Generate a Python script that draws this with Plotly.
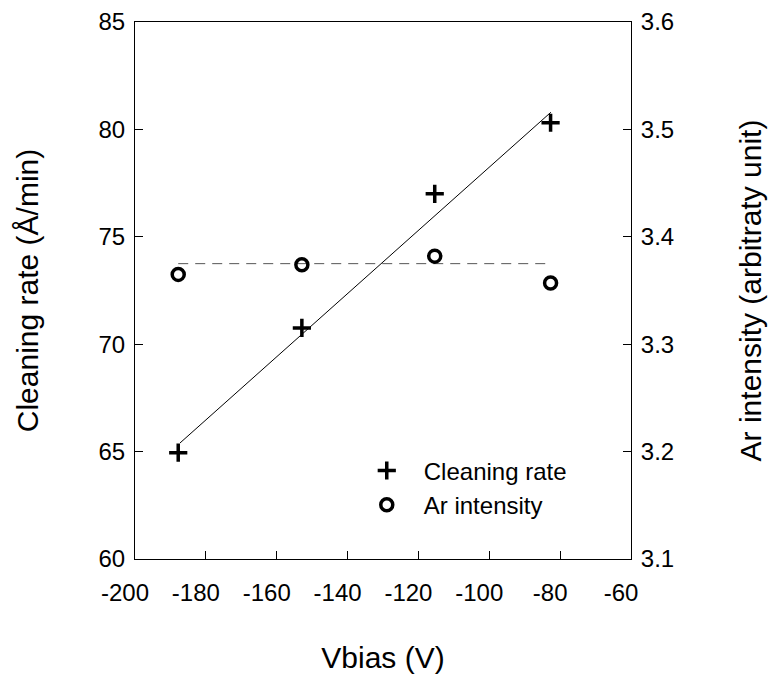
import plotly.graph_objects as go

# Data
vbias = [-187.8, -152.9, -115.4, -82.7]
cleaning_rate = [64.95, 70.76, 77.0, 80.31]
ar_intensity = [3.365, 3.374, 3.382, 3.357]

# Fitted lines
fit_x = [-187.3, -82.6]
fit_rate = [65.4, 80.8]
ar_level_x = [-187.8, -82.7]
ar_level = [3.375, 3.375]

x_ticks = [-200, -180, -160, -140, -120, -100, -80, -60]
x_tick_labels = ["-200", "-180", "-160", "-140", "-120", "-100", "-80", "-60"]
y_ticks = [60, 65, 70, 75, 80, 85]
y2_ticks = [3.1, 3.2, 3.3, 3.4, 3.5, 3.6]

FONT = "Liberation Sans, Arial, sans-serif"

fig = go.Figure()
fig.add_trace(go.Scatter(x=fit_x, y=fit_rate, mode="lines",
                         line=dict(color="black", width=1), showlegend=False,
                         hoverinfo="skip"))
fig.add_trace(go.Scatter(x=ar_level_x, y=ar_level, mode="lines", yaxis="y2",
                         line=dict(color="#555555", width=1, dash="10px,7px"),
                         showlegend=False, hoverinfo="skip"))
fig.add_trace(go.Scatter(x=vbias, y=cleaning_rate, mode="markers", name="Cleaning rate",
                         marker=dict(symbol="cross-thin", size=13, color="black",
                                     line=dict(color="black", width=3.5)),
                         legendgroup="a"))
fig.add_trace(go.Scatter(x=vbias, y=ar_intensity, mode="markers", name="Ar intensity",
                         yaxis="y2",
                         marker=dict(symbol="circle-open", size=12, color="black",
                                     line=dict(color="black", width=3.5)),
                         legendgroup="b"))

axis_common = dict(showgrid=False, zeroline=False, linecolor="black", linewidth=1,
                   ticks="inside", ticklen=8, tickcolor="black",
                   ticklabeloverflow="allow", automargin=False,
                   tickfont=dict(family=FONT, size=24, color="black"))

fig.update_layout(
    width=783, height=675,
    margin=dict(l=127, r=160, t=14, b=124),
    paper_bgcolor="white", plot_bgcolor="white",
    font=dict(family=FONT, color="black"),
    xaxis=dict(range=[-200, -60], tickvals=x_ticks, ticktext=x_tick_labels, mirror=True,
               ticklabelstandoff=12, ticklabelshift=-10,
               title=dict(text="Vbias (V)", font=dict(family=FONT, size=30), standoff=42),
               **axis_common),
    yaxis=dict(range=[60, 85], tickvals=y_ticks, ticklabelstandoff=4,
               title=dict(text="Cleaning rate (Å/min)", font=dict(family=FONT, size=30),
                          standoff=50),
               **axis_common),
    yaxis2=dict(range=[3.1, 3.6], tickvals=y2_ticks, overlaying="y", side="right",
                tickformat=".1f", ticklabelstandoff=4,
                title=dict(text="Ar intensity (arbitraty unit)", font=dict(family=FONT, size=30),
                           standoff=66),
                **axis_common),
    legend=dict(x=0.433, y=0.206, xanchor="left", yanchor="top",
                font=dict(family=FONT, size=24), itemwidth=64,
                bgcolor="rgba(0,0,0,0)", traceorder="grouped", tracegroupgap=0),
    showlegend=True,
)

fig.write_html("out.html")
